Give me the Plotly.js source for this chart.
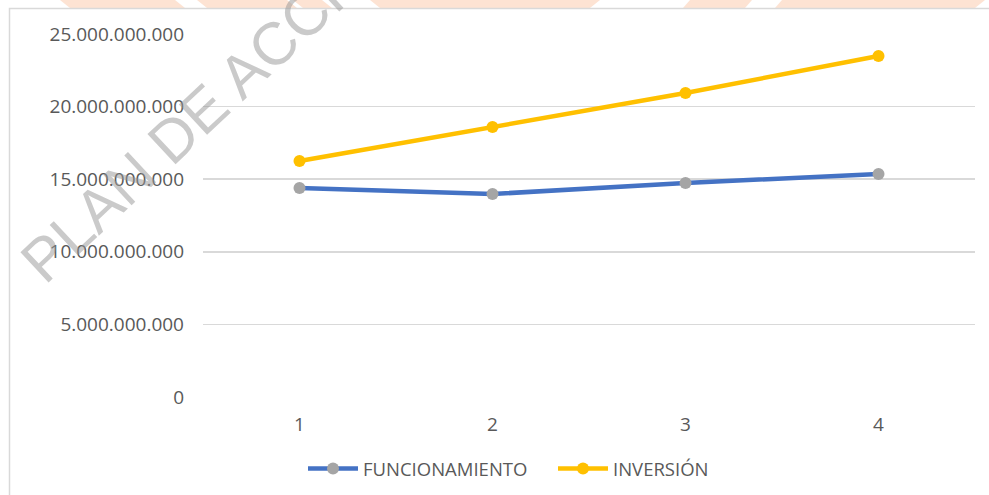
<!DOCTYPE html>
<html>
<head>
<meta charset="utf-8">
<script src="https://cdn.plot.ly/plotly-3.0.1.min.js"></script>
<style>
  html, body { margin: 0; padding: 0; background: #ffffff; }
  #chart { width: 989px; height: 495px; }
</style>
</head>
<body>
<div id="chart"></div>
<script>
// ---- data ----
var categories = ['1', '2', '3', '4'];
var funcionamiento = [14390000000, 13980000000, 14740000000, 15360000000];
var inversion = [16250000000, 18600000000, 20940000000, 23480000000];
var seriesNames = ['FUNCIONAMIENTO', 'INVERSIÓN'];
var yTickVals = [0, 5000000000, 10000000000, 15000000000, 20000000000, 25000000000];
var watermarkText = 'PLAN DE ACCIÓN';

// ---- layout geometry (pixels) ----
var W = 989, H = 495;
var M = { l: 203, r: 14, t: 34, b: 98, autoexpand: false };
var pw = W - M.l - M.r, ph = H - M.t - M.b;
function px2x(px) { return (px - M.l) / pw; }
function px2y(py) { return (H - M.b - py) / ph; }

var textColor = '#595959';
var fam = '"Open Sans", "Noto Sans", sans-serif';
var tickFont = { family: fam, size: 19, color: textColor };
var legendFont = { family: fam, size: 18.5, color: textColor };

var traces = [
  {
    x: categories, y: funcionamiento, name: seriesNames[0],
    type: 'scatter', mode: 'lines+markers',
    line: { color: '#4472c4', width: 4.5 },
    marker: { color: '#a5a5a5', size: 12 },
    hoverinfo: 'none'
  },
  {
    x: categories, y: inversion, name: seriesNames[1],
    type: 'scatter', mode: 'lines+markers',
    line: { color: '#ffc000', width: 4.5 },
    marker: { color: '#ffc000', size: 12 },
    hoverinfo: 'none'
  }
];

// decorative top stripes (peach) [topLeft, topRight, bottomLeft, bottomRight] in px
var stripes = [
  [60, 175, 70, 185],
  [197, 287, 207, 297],
  [293, 322, 303, 332],
  [370, 600, 380, 590],
  [690, 752, 683, 745],
  [782, 985, 775, 975]
];
var shapes = stripes.map(function (s) {
  return {
    type: 'path', xref: 'paper', yref: 'paper', layer: 'below',
    path: 'M ' + px2x(s[0]) + ' ' + px2y(0) + ' L ' + px2x(s[1]) + ' ' + px2y(0) +
          ' L ' + px2x(s[3]) + ' ' + px2y(8) + ' L ' + px2x(s[2]) + ' ' + px2y(8) + ' Z',
    fillcolor: '#fde3d3', line: { width: 0 }
  };
});
// chart area border
shapes.push({
  type: 'rect', xref: 'paper', yref: 'paper', layer: 'below',
  x0: px2x(9.5), x1: px2x(1000), y0: px2y(510), y1: px2y(8.5),
  line: { color: '#d9d9d9', width: 1.5 }, fillcolor: 'rgba(0,0,0,0)'
});

var layout = {
  width: W, height: H,
  margin: M,
  paper_bgcolor: '#ffffff',
  plot_bgcolor: '#ffffff',
  separators: ',.',
  font: tickFont,
  showlegend: true,
  legend: {
    orientation: 'h',
    x: px2x(303), xanchor: 'left',
    y: px2y(469), yanchor: 'middle',
    font: legendFont,
    itemwidth: 50,
    entrywidth: 185,
    entrywidthmode: 'pixels',
    traceorder: 'normal',
    bgcolor: 'rgba(0,0,0,0)'
  },
  xaxis: {
    type: 'category',
    range: [-0.5, 3.5],
    showgrid: false, zeroline: false, showline: false,
    ticks: '',
    tickfont: tickFont,
    ticklabelstandoff: 14
  },
  yaxis: {
    range: [0, 25000000000],
    tickvals: yTickVals,
    tickformat: ',d',
    showgrid: true, gridcolor: '#d9d9d9', gridwidth: 1.5,
    zeroline: false, showline: false,
    ticks: '',
    tickfont: tickFont,
    ticklabelstandoff: 18
  },
  shapes: shapes,
  annotations: [{
    text: watermarkText,
    xref: 'paper', yref: 'paper',
    x: px2x(215), y: px2y(100),
    xanchor: 'center', yanchor: 'middle',
    showarrow: false,
    textangle: -43,
    font: { family: '"Liberation Sans", Arial, sans-serif', size: 60, color: 'rgba(150,150,150,0.5)' }
  }]
};

Plotly.newPlot('chart', traces, layout, { displayModeBar: false, staticPlot: true });
</script>
</body>
</html>
